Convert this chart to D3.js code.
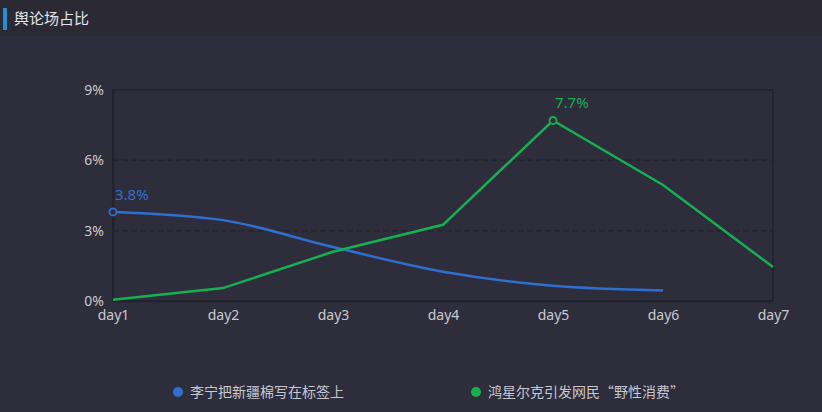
<!DOCTYPE html>
<html><head><meta charset="utf-8">
<script src="https://cdn.jsdelivr.net/npm/d3@7/dist/d3.min.js"></script>
<style>
html,body{margin:0;padding:0;background:#2e2d3c;}
svg{display:block;font-family:"Noto Sans","Noto Sans CJK SC",sans-serif;}
</style></head>
<body>
<svg id="c" width="822" height="412"></svg>
<script>
const days = ["day1","day2","day3","day4","day5","day6","day7"];
const seriesNames = ["李宁把新疆棉写在标签上","鸿星尔克引发网民“野性消费”"];
const liningValues = [3.8, 3.45, 2.3, 1.25, 0.65, 0.45];
const hongxingValues = [0.05, 0.55, 2.1, 3.25, 7.7, 4.95, 1.45];
const yTicks = [0, 3, 6, 9];
const colors = ["#2f6fd0", "#17b050"];

const svg = d3.select("#c");
const W = 822, H = 412;
svg.append("rect").attr("width", W).attr("height", H).attr("fill", "#2e2d3c");
svg.append("rect").attr("width", W).attr("height", 36).attr("fill", "#2b2a34");

// title
svg.append("rect").attr("x", 3).attr("y", 8).attr("width", 4).attr("height", 22).attr("fill", "#1f8fd6");
svg.append("text").attr("x", 14).attr("y", 24).attr("fill", "#e4e4ea").attr("font-size", 15)
  .attr("font-family", "'Noto Sans CJK SC'").text("舆论场占比");

const x = d3.scalePoint().domain(days).range([113, 773]);
const y = d3.scaleLinear().domain([0, 9]).range([301, 90]);

// frame
svg.append("rect").attr("x", 113).attr("y", 90).attr("width", 660).attr("height", 211)
  .attr("fill", "none").attr("stroke", "#22212c").attr("stroke-width", 1.5);

// grid
svg.append("g").selectAll("line").data(yTicks.filter(d => d > 0 && d < 9)).join("line")
  .attr("x1", 113).attr("x2", 773).attr("y1", d => y(d)).attr("y2", d => y(d))
  .attr("stroke", "#24232e").attr("stroke-width", 1.5).attr("stroke-dasharray", "6,3");

// y axis
const ya = svg.append("g").attr("transform", "translate(113,0)")
  .call(d3.axisLeft(y).tickValues(yTicks).tickFormat(d => d + "%").tickSize(0).tickPadding(9));
ya.select(".domain").attr("stroke", "#22212c").attr("stroke-width", 1.5);
ya.selectAll("text").attr("fill", "#c9c9d2").attr("font-size", 14).attr("font-family", "'Noto Sans',sans-serif");

// x axis
const xa = svg.append("g").attr("transform", "translate(0,301)")
  .call(d3.axisBottom(x).tickSize(0).tickPadding(9));
xa.select(".domain").attr("stroke", "#22212c").attr("stroke-width", 1.5);
xa.selectAll("text").attr("fill", "#c9c9d2").attr("font-size", 14).attr("font-family", "'Noto Sans',sans-serif");

// lines
const lineSmooth = d3.line().x((d, i) => x(days[i])).y(d => y(d)).curve(d3.curveMonotoneX);
const lineStraight = d3.line().x((d, i) => x(days[i])).y(d => y(d));

svg.append("path").datum(liningValues).attr("d", lineSmooth)
  .attr("fill", "none").attr("stroke", colors[0]).attr("stroke-width", 2.5);
svg.append("path").datum(hongxingValues).attr("d", lineStraight)
  .attr("fill", "none").attr("stroke", colors[1]).attr("stroke-width", 2.5);

// max markers
function marker(vals, color) {
  let mi = d3.maxIndex(vals);
  const cx = x(days[mi]), cy = y(vals[mi]);
  svg.append("circle").attr("cx", cx).attr("cy", cy).attr("r", 3.5)
    .attr("fill", "#2e2d3c").attr("stroke", color).attr("stroke-width", 1.8);
  svg.append("text").attr("x", cx + 2).attr("y", cy - 12).attr("fill", color)
    .attr("font-size", 15).attr("font-family", "'Noto Sans',sans-serif")
    .attr("text-anchor", mi === 0 ? "start" : "start").text(vals[mi] + "%");
}
marker(liningValues, colors[0]);
marker(hongxingValues, colors[1]);

// legend
const legendX = [178, 476];
seriesNames.forEach((n, i) => {
  svg.append("circle").attr("cx", legendX[i]).attr("cy", 392).attr("r", 5).attr("fill", colors[i]);
  svg.append("text").attr("x", legendX[i] + 12).attr("y", 397).attr("fill", "#c8c8d0")
    .attr("font-size", 14).attr("font-family", "'Noto Sans CJK SC'").text(n);
});
</script>
</body></html>
